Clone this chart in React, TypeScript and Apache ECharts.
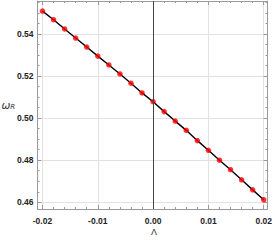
import React, { useEffect, useRef } from "react";
import * as echarts from "echarts";

const lambdaValues = [
  -0.02, -0.018, -0.016, -0.014, -0.012, -0.01, -0.008, -0.006, -0.004, -0.002,
  0, 0.002, 0.004, 0.006, 0.008, 0.01, 0.012, 0.014, 0.016, 0.018, 0.02,
];
const omegaValues = [
  0.5509, 0.5468, 0.5424, 0.5381, 0.5338, 0.5295, 0.5253, 0.521, 0.5166, 0.512,
  0.5078, 0.5031, 0.4986, 0.4942, 0.4893, 0.4847, 0.48, 0.4755, 0.4707, 0.4659, 0.4612,
];
const xRange = [-0.0209, 0.0207];
const yRange = [0.4568, 0.5557];

const frameColor = "#9a9a9a";
const gridColor = "#e2e2e2";
const labelFont = {
  fontSize: 8.5, fontWeight: "bold", color: "#222",
  fontFamily: "Liberation Sans, Arial, sans-serif",
};

export default function App() {
  const ref = useRef<HTMLDivElement>(null);
  useEffect(() => {
    if (!ref.current) return;
    const chart = echarts.init(ref.current, null, { renderer: "svg" });
    const pts = lambdaValues.map((x, i) => [x, omegaValues[i]]);
    const tick = { show: true, inside: true, length: 4, lineStyle: { color: frameColor, width: 1 } };
    const minor = { show: true, length: 2, lineStyle: { color: frameColor, width: 1 } };
    const axisLine = { show: true, onZero: false, lineStyle: { color: frameColor, width: 1 } };
    chart.setOption({
      animation: false,
      grid: { left: 37.5, right: 4.5, top: 1, bottom: 32, containLabel: false },
      xAxis: [
        {
          type: "value", position: "bottom", min: xRange[0], max: xRange[1], splitNumber: 4,
          axisLine, axisTick: tick, minorTick: { ...minor, splitNumber: 5 },
          splitLine: { show: true, lineStyle: { color: gridColor, width: 1 } },
          axisLabel: { ...labelFont, margin: 7, showMinLabel: false, showMaxLabel: false,
            formatter: (v: number) => v.toFixed(2) },
        },
        {
          type: "value", position: "top", min: xRange[0], max: xRange[1], splitNumber: 4,
          axisLine, axisTick: tick, minorTick: { ...minor, splitNumber: 5 },
          splitLine: { show: false }, axisLabel: { show: false },
        },
      ],
      yAxis: [
        {
          type: "value", position: "left", min: yRange[0], max: yRange[1], splitNumber: 5,
          axisLine, axisTick: tick, minorTick: { ...minor, splitNumber: 4 },
          splitLine: { show: true, lineStyle: { color: gridColor, width: 1 } },
          axisLabel: { ...labelFont, margin: 4, showMinLabel: false, showMaxLabel: false,
            formatter: (v: number) => v.toFixed(2) },
        },
        {
          type: "value", position: "right", min: yRange[0], max: yRange[1], splitNumber: 5,
          axisLine, axisTick: tick, minorTick: { ...minor, splitNumber: 4 },
          splitLine: { show: false }, axisLabel: { show: false },
        },
      ],
      series: [
        {
          type: "line", data: pts, showSymbol: false, symbol: "none",
          lineStyle: { color: "#000", width: 1.4 }, z: 3,
          markLine: {
            silent: true, symbol: ["none", "none"], label: { show: false },
            lineStyle: { color: "#444", width: 1, type: "solid" },
            data: [{ xAxis: 0 }],
          },
        },
        {
          type: "scatter", data: pts, symbol: "circle", symbolSize: 5.5,
          itemStyle: { color: "#ff0000" }, z: 4,
        },
      ],
      graphic: [
        {
          type: "text", left: 1.5, top: 99,
          style: {
            text: "{w|ω}{r|R}",
            rich: {
              w: { fontSize: 10.5, fontStyle: "italic", fill: "#333", fontFamily: "DejaVu Sans, sans-serif" },
              r: { fontSize: 7, fontStyle: "italic", fill: "#333", fontFamily: "DejaVu Sans, sans-serif", verticalAlign: "bottom", padding: [4, 0, 0, 0] },
            },
          },
        },
        {
          type: "text", left: 151, top: 227.5,
          style: { text: "Λ", fontSize: 9, fill: "#333", fontFamily: "Liberation Sans, Arial, sans-serif" },
        },
      ],
    });
    return () => chart.dispose();
  }, []);
  return <div ref={ref} style={{ width: 275, height: 241, position: "absolute", left: 0, top: 0 }} />;
}
